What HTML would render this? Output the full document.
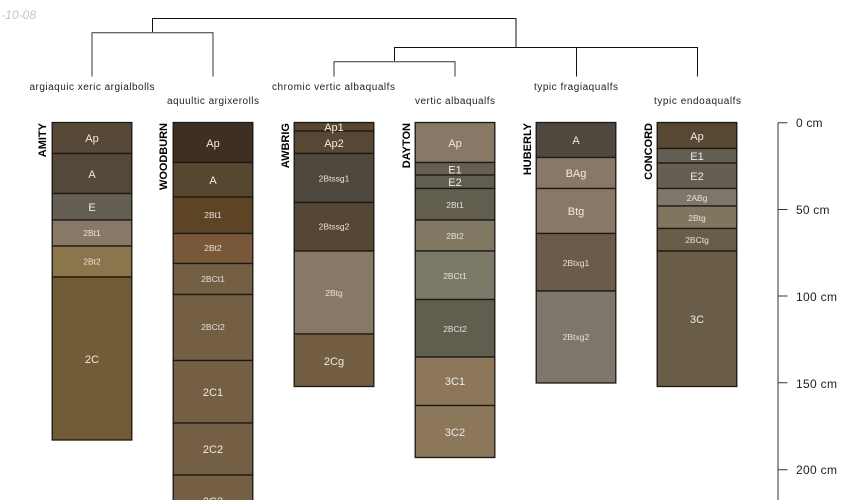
<!DOCTYPE html>
<html><head><meta charset="utf-8"><style>
html,body{margin:0;padding:0;background:#fff;width:850px;height:500px;overflow:hidden}
svg{display:block;font-family:"Liberation Sans",sans-serif}
.h rect{stroke:#1c1814;stroke-width:1.3}
.h text{fill:#efece6;text-anchor:middle;font-size:11px}
.h text.s{font-size:8.5px;fill:#e6e2da}
.n{font-size:11px;font-weight:bold;fill:#000;text-anchor:end}
.l{font-size:10px;fill:#222;text-anchor:middle}
.a{font-size:12px;fill:#222}
</style></head><body>
<svg width="850" height="500" viewBox="0 0 850 500" xmlns="http://www.w3.org/2000/svg">
<text x="36" y="19" font-size="12" font-style="italic" fill="#c4c4c4" text-anchor="end">-10-08</text>
<g fill="none" stroke="#111" stroke-width="1">
<path d="M152.500 32V18.500H516V47"/>
<path d="M92 76.500V32.800H213V76.500" stroke="#333"/>
<path d="M394.500 61V47.500H697.500V76.500M576.500 47.500V76.500"/>
<path d="M334 76.500V61.800H455V76.500" stroke="#333"/>
</g>
<text class="l" x="92" y="90" textLength="125">argiaquic xeric argialbolls</text>
<text class="l" x="213" y="104" textLength="92">aquultic argixerolls</text>
<text class="l" x="333.500" y="90" textLength="123">chromic vertic albaqualfs</text>
<text class="l" x="455" y="104" textLength="80">vertic albaqualfs</text>
<text class="l" x="576" y="90" textLength="84">typic fragiaqualfs</text>
<text class="l" x="697.500" y="104" textLength="87">typic endoaqualfs</text>

<text class="n" transform="translate(46,123) rotate(-90)">AMITY</text>
<text class="n" transform="translate(167,123) rotate(-90)" textLength="67">WOODBURN</text>
<text class="n" transform="translate(289,123) rotate(-90)">AWBRIG</text>
<text class="n" transform="translate(410,123) rotate(-90)">DAYTON</text>
<text class="n" transform="translate(531,123) rotate(-90)">HUBERLY</text>
<text class="n" transform="translate(652,123) rotate(-90)">CONCORD</text>

<g class="h">
<rect x="52.200" y="122.500" width="79.600" height="31" fill="#584838"/><text x="92" y="142">Ap</text>
<rect x="52.200" y="153.500" width="79.600" height="40" fill="#54483a"/><text x="92" y="178">A</text>
<rect x="52.200" y="193.500" width="79.600" height="26.500" fill="#655e52"/><text x="92" y="211">E</text>
<rect x="52.200" y="220" width="79.600" height="26" fill="#887866"/><text class="s" x="92" y="236">2Bt1</text>
<rect x="52.200" y="246" width="79.600" height="31" fill="#8a754d"/><text class="s" x="92" y="264.500">2Bt2</text>
<rect x="52.200" y="277" width="79.600" height="163" fill="#725c35"/><text x="92" y="363">2C</text>

<rect x="173.200" y="122.500" width="79.600" height="40" fill="#3e2f22"/><text x="213" y="147">Ap</text>
<rect x="173.200" y="162.500" width="79.600" height="34.500" fill="#574630"/><text x="213" y="184">A</text>
<rect x="173.200" y="197" width="79.600" height="36.500" fill="#5c4425"/><text class="s" x="213" y="218">2Bt1</text>
<rect x="173.200" y="233.500" width="79.600" height="30" fill="#795839"/><text class="s" x="213" y="251">2Bt2</text>
<rect x="173.200" y="263.500" width="79.600" height="31" fill="#745f45"/><text class="s" x="213" y="282">2BCt1</text>
<rect x="173.200" y="294.500" width="79.600" height="66" fill="#745f45"/><text class="s" x="213" y="330">2BCt2</text>
<rect x="173.200" y="360.500" width="79.600" height="62.500" fill="#745f45"/><text x="213" y="396">2C1</text>
<rect x="173.200" y="423" width="79.600" height="52" fill="#745f45"/><text x="213" y="453">2C2</text>
<rect x="173.200" y="475" width="79.600" height="40" fill="#745f45"/><text x="213" y="505">2C3</text>

<rect x="294.200" y="122.500" width="79.600" height="8.500" fill="#584733"/>
<rect x="294.200" y="131" width="79.600" height="22.500" fill="#584733"/><text x="334" y="131">Ap1</text><text x="334" y="147">Ap2</text>
<rect x="294.200" y="153.500" width="79.600" height="49" fill="#4f483e"/><text class="s" x="334" y="181.500">2Btssg1</text>
<rect x="294.200" y="202.500" width="79.600" height="48.500" fill="#554636"/><text class="s" x="334" y="229.500">2Btssg2</text>
<rect x="294.200" y="251" width="79.600" height="83" fill="#887866"/><text class="s" x="334" y="296">2Btg</text>
<rect x="294.200" y="334" width="79.600" height="52.500" fill="#735d42"/><text x="334" y="365">2Cg</text>

<rect x="415.200" y="122.500" width="79.600" height="40" fill="#887866"/><text x="455" y="147">Ap</text>
<rect x="415.200" y="162.500" width="79.600" height="12.500" fill="#655e52"/>
<rect x="415.200" y="175" width="79.600" height="13.500" fill="#615d4f"/><text x="455" y="173.500">E1</text><text x="455" y="186">E2</text>
<rect x="415.200" y="188.500" width="79.600" height="31.500" fill="#615d4f"/><text class="s" x="455" y="208">2Bt1</text>
<rect x="415.200" y="220" width="79.600" height="31" fill="#807863"/><text class="s" x="455" y="239">2Bt2</text>
<rect x="415.200" y="251" width="79.600" height="48.500" fill="#7d7969"/><text class="s" x="455" y="279">2BCt1</text>
<rect x="415.200" y="299.500" width="79.600" height="57.500" fill="#615d4f"/><text class="s" x="455" y="332">2BCt2</text>
<rect x="415.200" y="357" width="79.600" height="48.500" fill="#8d775b"/><text x="455" y="385">3C1</text>
<rect x="415.200" y="405.500" width="79.600" height="52" fill="#8d775b"/><text x="455" y="436">3C2</text>

<rect x="536.200" y="122.500" width="79.600" height="35" fill="#4f483e"/><text x="576" y="144">A</text>
<rect x="536.200" y="157.500" width="79.600" height="31" fill="#887866"/><text x="576" y="177">BAg</text>
<rect x="536.200" y="188.500" width="79.600" height="45" fill="#887866"/><text x="576" y="215">Btg</text>
<rect x="536.200" y="233.500" width="79.600" height="57.500" fill="#6b5b48"/><text class="s" x="576" y="266">2Btxg1</text>
<rect x="536.200" y="291" width="79.600" height="92" fill="#7e766b"/><text class="s" x="576" y="340">2Btxg2</text>

<rect x="657.200" y="122.500" width="79.600" height="26" fill="#584733"/><text x="697" y="140">Ap</text>
<rect x="657.200" y="148.500" width="79.600" height="14.500" fill="#655e52"/><text x="697" y="160">E1</text>
<rect x="657.200" y="163" width="79.600" height="25.500" fill="#655e52"/><text x="697" y="180">E2</text>
<rect x="657.200" y="188.500" width="79.600" height="17.500" fill="#7e766b"/><text class="s" x="697" y="201">2ABg</text>
<rect x="657.200" y="206" width="79.600" height="22.500" fill="#807660"/><text class="s" x="697" y="221">2Btg</text>
<rect x="657.200" y="228.500" width="79.600" height="22.500" fill="#6a5d47"/><text class="s" x="697" y="243">2BCtg</text>
<rect x="657.200" y="251" width="79.600" height="135.500" fill="#6a5d47"/><text x="697" y="323">3C</text>
</g>

<path d="M778 500V122.800" fill="none" stroke="#444" stroke-width="1.100"/>
<path d="M778 122.800H787.500M778 209.500H787.500M778 296H787.500M778 382.800H787.500M778 469.700H787.500" fill="none" stroke="#333" stroke-width="1"/>
<text class="a" x="796" y="127" textLength="26.500">0 cm</text>
<text class="a" x="796" y="214" textLength="33.500">50 cm</text>
<text class="a" x="796" y="301" textLength="41">100 cm</text>
<text class="a" x="796" y="388" textLength="41">150 cm</text>
<text class="a" x="796" y="474" textLength="41">200 cm</text>
</svg>
</body></html>
